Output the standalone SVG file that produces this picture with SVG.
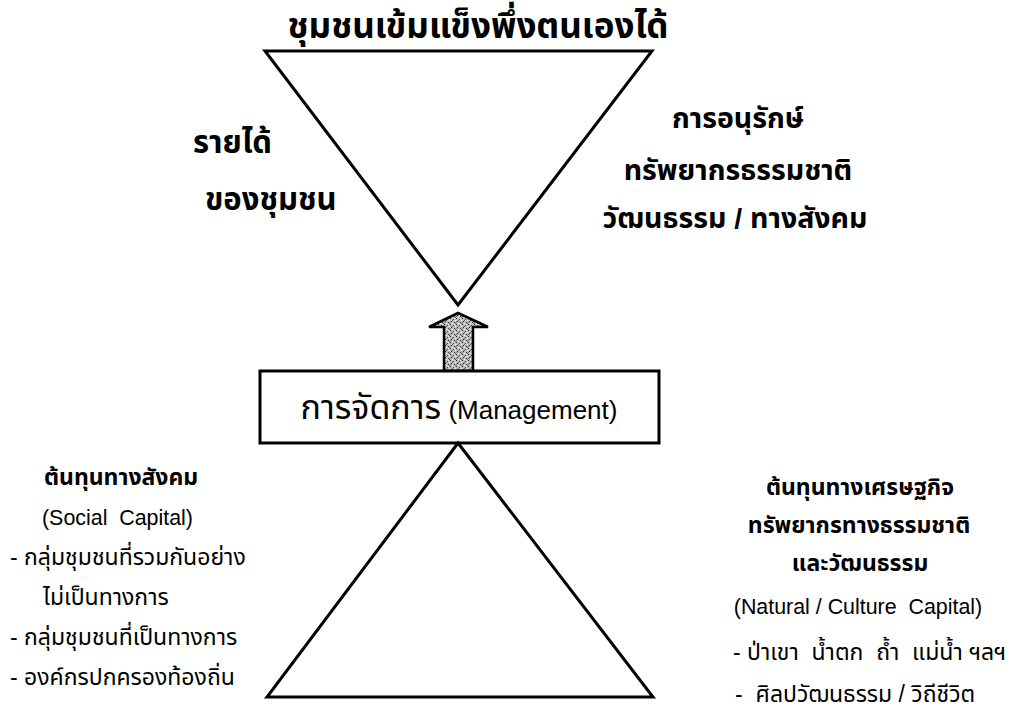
<svg xmlns="http://www.w3.org/2000/svg" width="1019" height="709" viewBox="0 0 1019 709">
<style>
text{font-family:"Liberation Sans","Noto Sans Thai","Noto Sans",sans-serif;fill:#000}
.b{font-weight:bold}
.shape{fill:#fff;stroke:#000;stroke-width:3;stroke-linejoin:miter}
.t35{font-size:35px}
.t31{font-size:31px}
.t28{font-size:28.5px}
.t26{font-size:26px}
.t23{font-size:23px}
.t21{font-size:21.4px}
.c{text-anchor:middle}
</style>
<defs>
<pattern id="stip" width="6" height="6" patternUnits="userSpaceOnUse">
<rect width="6" height="6" fill="#bdbdbd"/>
<rect x="0" y="0" width="1" height="1" fill="#222"/>
<rect x="3" y="1" width="1" height="1" fill="#444"/>
<rect x="1" y="3" width="1" height="1" fill="#222"/>
<rect x="4" y="4" width="1" height="1" fill="#333"/>
<rect x="5" y="2" width="1" height="1" fill="#fff"/>
<rect x="2" y="5" width="1" height="1" fill="#fff"/>
<rect x="2" y="2" width="1" height="1" fill="#666"/>
<rect x="5" y="5" width="1" height="1" fill="#555"/>
<rect x="4" y="0" width="1" height="1" fill="#eee"/>
<rect x="0" y="4" width="1" height="1" fill="#777"/>
</pattern>
</defs>

<g id="top-triangle">
<polygon class="shape" points="265,51 652,51 458,305"/>
</g>
<g id="title">
<text class="t35 b c" x="478" y="38">ชุมชนเข้มแข็งพึ่งตนเองได้</text>
</g>
<g id="income">
<text class="t31 b" x="193" y="153">รายได้</text>
<text class="t31 b" x="205" y="210">ของชุมชน</text>
</g>
<g id="conservation">
<text class="t28 b c" x="738" y="128">การอนุรักษ์</text>
<text class="t28 b c" x="738" y="180">ทรัพยากรธรรมชาติ</text>
<text class="t28 b c" x="735" y="228">วัฒนธรรม / ทางสังคม</text>
</g>

<g id="connectors">
<polygon points="458,313 488,327 473,327 473,371 444,371 444,327 429,327" fill="url(#stip)" stroke="#000" stroke-width="2.5" stroke-linejoin="miter"/>
</g>

<g id="management">
<rect class="shape" x="260" y="371" width="399" height="72"/>
<text class="t26 c" x="459" y="419"><tspan font-size="34px">การจัดการ</tspan> (Management)</text>
</g>

<g id="bottom-triangle">
<polygon class="shape" points="458,443 653,697 267,697"/>
</g>

<g id="social-capital">
<text class="t23 b" x="44" y="485">ต้นทุนทางสังคม</text>
<text class="t21" x="42" y="525" xml:space="preserve">(Social  Capital)</text>
<text class="t23" x="10" y="565">- กลุ่มชุมชนที่รวมกันอย่าง</text>
<text class="t23" x="43" y="605">ไม่เป็นทางการ</text>
<text class="t23" x="10" y="645">- กลุ่มชุมชนที่เป็นทางการ</text>
<text class="t23" x="10" y="685">- องค์กรปกครองท้องถิ่น</text>
</g>

<g id="natural-capital">
<text class="t23 b c" x="860" y="495">ต้นทุนทางเศรษฐกิจ</text>
<text class="t23 b c" x="859" y="533">ทรัพยากรทางธรรมชาติ</text>
<text class="t23 b c" x="860" y="571">และวัฒนธรรม</text>
<text class="t21 c" x="858" y="614" xml:space="preserve">(Natural / Culture  Capital)</text>
<text class="t23" x="733" y="660" xml:space="preserve">- ป่าเขา  น้ำตก  ถ้ำ  แม่น้ำ ฯลฯ</text>
<text class="t23" x="735" y="702" xml:space="preserve">-  ศิลปวัฒนธรรม / วิถีชีวิต</text>
</g>
</svg>
